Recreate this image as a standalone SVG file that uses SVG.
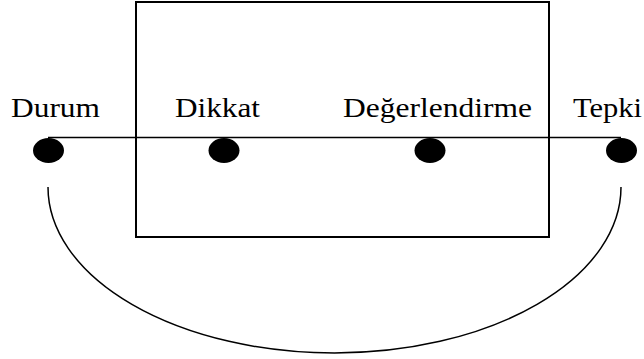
<svg xmlns="http://www.w3.org/2000/svg" width="644" height="359" viewBox="0 0 644 359">
<style>
.lbl{font-family:'Times New Roman','Liberation Serif',Times,serif;font-size:27px;fill:#000}
.dot{fill:#000}
.ln{fill:none;stroke:#000}
</style>
<rect x="0" y="0" width="644" height="359" fill="#fff"/>
<g id="box"><rect class="ln" x="136" y="2" width="413" height="235" stroke-width="2"/></g>
<g id="connectors">
<line class="ln" x1="48" y1="137.5" x2="621" y2="137.5" stroke-width="1.5"/>
<path class="ln" d="M48,187 A286.5,166 0 0 0 621,187" stroke-width="1.5"/>
</g>
<g id="durum"><text class="lbl" x="11" y="117" textLength="89" lengthAdjust="spacingAndGlyphs">Durum</text><ellipse class="dot" cx="48.5" cy="150.5" rx="15.5" ry="12.5"/></g>
<g id="dikkat"><text class="lbl" x="175" y="117" textLength="85" lengthAdjust="spacingAndGlyphs">Dikkat</text><ellipse class="dot" cx="224" cy="150.5" rx="15.5" ry="12.5"/></g>
<g id="degerlendirme"><text class="lbl" x="343" y="117" textLength="189" lengthAdjust="spacingAndGlyphs">Değerlendirme</text><ellipse class="dot" cx="430" cy="150.5" rx="15.5" ry="12.5"/></g>
<g id="tepki"><text class="lbl" x="573" y="117" textLength="69" lengthAdjust="spacingAndGlyphs">Tepki</text><ellipse class="dot" cx="621.5" cy="150.5" rx="15.5" ry="12.5"/></g>
</svg>
